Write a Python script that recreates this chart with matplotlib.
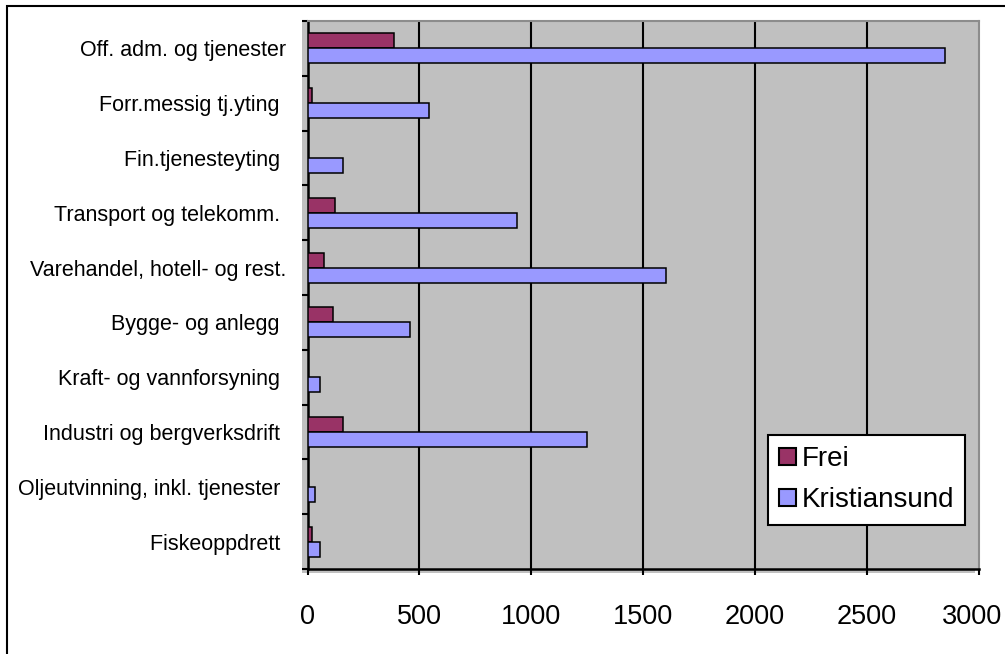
import matplotlib

matplotlib.use("Agg")
import matplotlib.pyplot as plt
import numpy as np
from matplotlib.patches import Rectangle

plt.rcParams["font.family"] = ["Liberation Sans", "DejaVu Sans"]

# Sysselsatte etter næring, Frei og Kristiansund
categories = [
    "Off. adm. og tjenester",
    "Forr.messig tj.yting ",
    "Fin.tjenesteyting ",
    "Transport og telekomm. ",
    "Varehandel, hotell- og rest.",
    "Bygge- og anlegg ",
    "Kraft- og vannforsyning ",
    "Industri og bergverksdrift ",
    "Oljeutvinning, inkl. tjenester ",
    "Fiskeoppdrett ",
]
frei = [385, 20, 0, 125, 72, 116, 0, 160, 0, 18]
kristiansund = [2850, 545, 160, 938, 1600, 456, 54, 1250, 34, 54]
x_ticks = [0, 500, 1000, 1500, 2000, 2500, 3000]

FREI_COLOR = "#993366"
KSU_COLOR = "#9999FF"
PLOT_BG = "#C0C0C0"

W, H = 1005, 654
fig = plt.figure(figsize=(W / 100, H / 100), dpi=100)

# chart area frame (only left and top edges fall inside the image)
fig.patches.append(
    Rectangle((7 / W, -0.5), 2, 1.5 - 6 / H, transform=fig.transFigure,
              fill=False, edgecolor="black", linewidth=1.5, zorder=-2)
)
# plot-area fill reaches a little past the axes on the left and bottom
fig.patches.append(
    Rectangle((302 / W, 1 - 573 / H), (975 - 302) / W, (573 - 21) / H,
              transform=fig.transFigure, facecolor=PLOT_BG, edgecolor="none", zorder=-1)
)

ax = fig.add_axes([307.5 / W, 1 - 569 / H, (979 - 307.5) / W, (569 - 21) / H])
ax.set_facecolor(PLOT_BG)

y = np.arange(len(categories))
h = 0.275
ax.barh(y - h / 2, frei, height=h, color=FREI_COLOR, edgecolor="black",
        linewidth=1.1, label="Frei", zorder=3)
ax.barh(y + h / 2, kristiansund, height=h, color=KSU_COLOR, edgecolor="black",
        linewidth=1.1, label="Kristiansund", zorder=3)

ax.set_xlim(0, 3000)
ax.set_ylim(len(categories) - 0.5, -0.5)

# the last label is pulled in a little so it stays inside the chart
ax.set_xticks(x_ticks)
ax.set_xticklabels([str(v) for v in x_ticks[:-1]] + [""])
ax.tick_params(axis="x", direction="out", length=4.5, width=1.5, pad=21,
               labelsize=19.5, color="black")
ax.annotate(str(x_ticks[-1]), xy=(x_ticks[-1], 0), xycoords=ax.get_xaxis_transform(),
            xytext=(-5, -25.5), textcoords="offset points",
            ha="center", va="top", fontsize=19.5)
for v in x_ticks[1:-1]:
    ax.axvline(v, color="black", linewidth=1.5, zorder=1)

# tick marks between categories, labels centred on each category
ax.set_yticks(np.arange(len(categories) + 1) - 0.5)
ax.set_yticklabels([])
ax.set_yticks(y, minor=True)
ax.set_yticklabels(categories, minor=True)
ax.tick_params(axis="y", which="major", direction="out", length=4, width=1.5)
ax.tick_params(axis="y", which="minor", length=0, pad=15.5, labelsize=15.5)

ax.spines["left"].set_linewidth(1.8)
ax.spines["bottom"].set_linewidth(1.8)
for side in ("top", "right"):
    ax.spines[side].set_color("#8c8c8c")
    ax.spines[side].set_linewidth(1.5)

leg = ax.legend(
    loc="upper left",
    bbox_to_anchor=(768 / W, 1 - 435 / H),
    bbox_transform=fig.transFigure,
    borderaxespad=0,
    fontsize=20,
    frameon=True,
    fancybox=False,
    framealpha=1,
    edgecolor="black",
    handlelength=0.6,
    handleheight=0.6,
    handletextpad=0.2,
    labelspacing=0.55,
    borderpad=0.4,
)
leg.get_frame().set_linewidth(1.5)
for patch in leg.get_patches():
    patch.set_linewidth(1.5)

fig.savefig("out.png", dpi=100)
